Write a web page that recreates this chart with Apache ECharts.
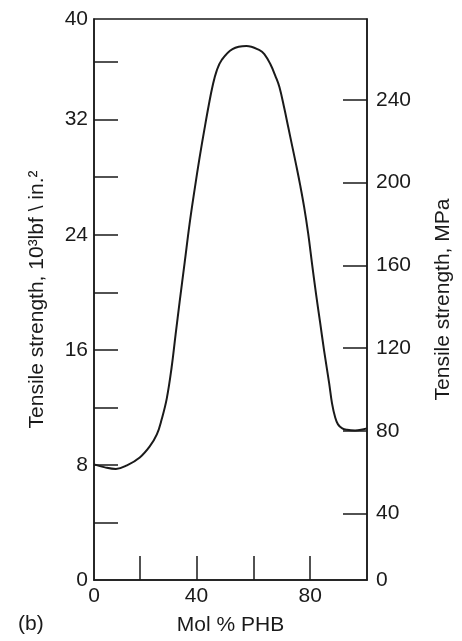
<!DOCTYPE html>
<html>
<head>
<meta charset="utf-8">
<script src="https://cdn.jsdelivr.net/npm/echarts@6/dist/echarts.min.js"></script>
<style>
html, body { margin: 0; padding: 0; background: #fff; }
#chart { width: 462px; height: 641px; }
</style>
</head>
<body>
<div id="chart"></div>
<script>
// mol % PHB vs tensile strength (10^3 lbf/in.^2)
var molPHB = [4, 7.85, 11.7, 15.6, 20.1, 23.6, 26.1, 27.8, 29.6, 31.3, 32.7, 34.1, 35.9, 37.6, 39.4, 41.1, 42.9, 44.3, 45.7, 47.1, 48.9, 52.7, 57.6, 62.2, 63.9, 66.0, 67.8, 69.2, 70.9, 72.3, 73.7, 75.1, 76.5, 77.9, 79.3, 80.7, 82.1, 83.5, 84.9, 86.7, 87.7, 88.8, 89.8, 91.3, 93.0, 95.8, 97.9, 100];
var strengthKsi = [8.04, 7.83, 7.72, 7.97, 8.52, 9.29, 10.12, 11.17, 12.63, 14.79, 17.08, 19.31, 22.09, 24.74, 27.17, 29.33, 31.41, 32.95, 34.34, 35.38, 36.15, 36.91, 37.12, 36.84, 36.56, 35.87, 35.03, 34.27, 32.81, 31.49, 30.16, 28.84, 27.45, 25.92, 24.11, 21.95, 19.86, 17.92, 15.97, 13.67, 12.28, 11.31, 10.82, 10.54, 10.44, 10.40, 10.44, 10.54];

// axis ticks and labels (frame corners carry the "0" / "40" labels)
var xTicks = [20, 40, 60, 80];
var xLabelValues = [4, 40, 80];
var xLabelText = ["0", "40", "80"];
var ksiTicks = [4, 8, 12, 16, 20, 24, 28, 32, 36];
var ksiLabelValues = [0, 8, 16, 24, 32, 39];
var ksiLabelText = ["0", "8", "16", "24", "32", "40"];
var mpaTicks = [40, 80, 120, 160, 200, 240];
var mpaLabelValues = [7.9, 40, 80, 120, 160, 200, 240];
var mpaLabelText = ["0", "40", "80", "120", "160", "200", "240"];

function pick(values, texts) {
    return function (v) {
        for (var i = 0; i < values.length; i++) {
            if (Math.abs(values[i] - v) < 1e-6) return texts[i];
        }
        return "";
    };
}

var font = "'Liberation Sans', Arial, sans-serif";
var ink = "#1a1a1a";
var points = molPHB.map(function (x, i) { return [x, strengthKsi[i]]; });

var chart = echarts.init(document.getElementById("chart"));
chart.setOption({
    animation: false,
    backgroundColor: "#fff",
    textStyle: { fontFamily: font, color: ink },
    grid: {
        left: 94,
        right: 94,
        top: 19,
        bottom: 61,
        show: true,
        borderColor: ink,
        borderWidth: 1.5
    },
    graphic: [{
        type: "text",
        left: 18,
        top: 614,
        style: { text: "(b)", fontSize: 21, fontFamily: font, fill: ink }
    }],
    xAxis: {
        type: "value",
        min: 4,
        max: 100,
        name: "Mol % PHB",
        nameLocation: "middle",
        nameGap: 35,
        nameTextStyle: { fontSize: 21, color: ink },
        axisLine: { lineStyle: { color: ink, width: 1.5 } },
        axisTick: { inside: true, length: 24, customValues: xTicks, lineStyle: { color: ink, width: 1.5 } },
        axisLabel: { customValues: xLabelValues, formatter: pick(xLabelValues, xLabelText), fontSize: 21, color: ink, margin: 6 },
        splitLine: { show: false }
    },
    yAxis: [{
        type: "value",
        position: "left",
        min: 0,
        max: 39,
        name: "Tensile strength, 10³lbf \\ in.²",
        nameLocation: "middle",
        nameGap: 46,
        nameTextStyle: { fontSize: 21, color: ink },
        axisLine: { show: true, lineStyle: { color: ink, width: 1.5 } },
        axisTick: { show: true, inside: true, length: 24, customValues: ksiTicks, lineStyle: { color: ink, width: 1.5 } },
        axisLabel: { customValues: ksiLabelValues, formatter: pick(ksiLabelValues, ksiLabelText), fontSize: 21, color: ink, margin: 6 },
        splitLine: { show: false }
    }, {
        type: "value",
        position: "right",
        min: 7.9,
        max: 279,
        name: "Tensile strength, MPa",
        nameLocation: "middle",
        nameGap: 66,
        nameTextStyle: { fontSize: 21, color: ink },
        axisLine: { show: true, lineStyle: { color: ink, width: 1.5 } },
        axisTick: { show: true, inside: true, length: 24, customValues: mpaTicks, lineStyle: { color: ink, width: 1.5 } },
        axisLabel: { customValues: mpaLabelValues, formatter: pick(mpaLabelValues, mpaLabelText), fontSize: 21, color: ink, margin: 9 },
        splitLine: { show: false }
    }],
    series: [{
        type: "line",
        yAxisIndex: 0,
        data: points,
        smooth: 0.4,
        showSymbol: false,
        lineStyle: { color: ink, width: 2 }
    }]
});
</script>
</body>
</html>
